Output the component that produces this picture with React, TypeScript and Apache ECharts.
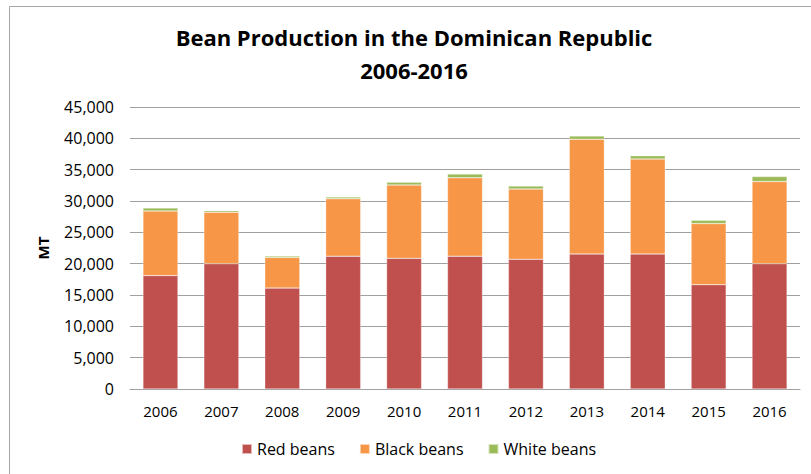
import React, { useEffect, useRef } from "react";
import * as echarts from "echarts";

const years = ["2006", "2007", "2008", "2009", "2010", "2011", "2012", "2013", "2014", "2015", "2016"];
const redBeans = [18100, 20000, 16100, 21200, 20850, 21200, 20700, 21550, 21550, 16650, 20000];
const blackBeans = [10300, 8200, 4900, 9150, 11700, 12500, 11200, 18300, 15150, 9750, 13100];
const whiteBeans = [480, 260, 210, 270, 430, 590, 480, 530, 530, 530, 800];
const yTicks = { min: 0, max: 45000, interval: 5000 };

const FONT = "'Open Sans', 'Liberation Sans', sans-serif";

export default function App() {
  const ref = useRef<HTMLDivElement>(null);
  useEffect(() => {
    if (!ref.current) return;
    const chart = echarts.init(ref.current, null, { renderer: "svg" });
    const barStyle = (color: string) => ({
      color,
      borderColor: "rgba(255,255,255,0.6)",
      borderWidth: 0.5,
    });
    chart.setOption({
      animation: false,
      backgroundColor: "#ffffff",
      title: {
        text: "Bean Production in the Dominican Republic\n2006-2016",
        left: 409,
        top: 15,
        textAlign: "center",
        textStyle: {
          fontFamily: FONT,
          fontSize: 22,
          fontWeight: "bold",
          color: "#000000",
          lineHeight: 33,
        },
      },
      graphic: [
        {
          type: "rect",
          shape: { x: 9.5, y: 6.5, width: 830, height: 500 },
          style: { fill: "none", stroke: "#a6a6a6", lineWidth: 1 },
          silent: true,
        },
      ],
      legend: {
        left: 236,
        top: 436,
        itemWidth: 10,
        itemHeight: 10,
        itemGap: 24,
        icon: "rect",
        textStyle: { fontFamily: FONT, fontSize: 16, color: "#000000" },
        data: ["Red beans", "Black beans", "White beans"],
      },
      grid: { left: 130, right: 11, top: 107, bottom: 85 },
      xAxis: {
        type: "category",
        data: years,
        axisLine: { lineStyle: { color: "#a0a0a0", width: 1 } },
        axisTick: { show: false },
        axisLabel: { fontFamily: FONT, fontSize: 15, color: "#000000", margin: 14 },
      },
      yAxis: {
        type: "value",
        min: yTicks.min,
        max: yTicks.max,
        interval: yTicks.interval,
        name: "MT",
        nameLocation: "middle",
        nameGap: 80,
        nameTextStyle: { fontFamily: FONT, fontSize: 15, fontWeight: "bold", color: "#000000" },
        axisLine: { show: false },
        axisTick: { show: false },
        splitLine: { lineStyle: { color: "#a0a0a0", width: 1 } },
        axisLabel: {
          fontFamily: FONT,
          fontSize: 16,
          color: "#000000",
          margin: 16,
          formatter: (v: number) => v.toLocaleString("en-US"),
        },
      },
      series: [
        { name: "Red beans", type: "bar", stack: "t", data: redBeans, barWidth: 35, itemStyle: barStyle("#C0504D") },
        { name: "Black beans", type: "bar", stack: "t", data: blackBeans, barWidth: 35, itemStyle: barStyle("#F79646") },
        { name: "White beans", type: "bar", stack: "t", data: whiteBeans, barWidth: 35, itemStyle: barStyle("#9BBB59") },
      ],
    });
    return () => chart.dispose();
  }, []);
  return (
    <div
      ref={ref}
      style={{ position: "absolute", left: 0, top: 0, width: 811, height: 474 }}
    />
  );
}
